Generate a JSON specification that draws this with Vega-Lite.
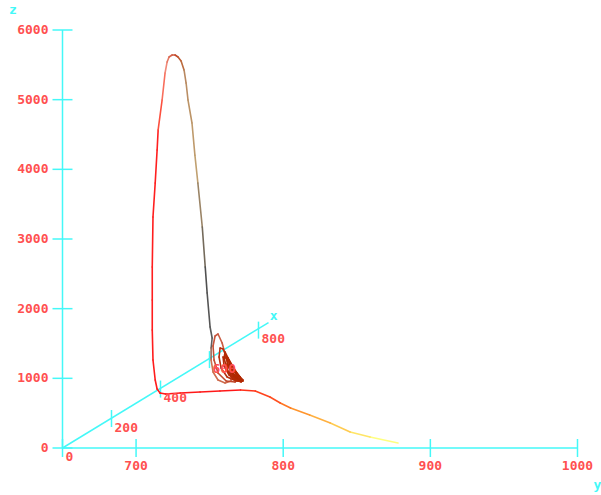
{
  "$schema": "https://vega.github.io/schema/vega-lite/v6.json",
  "width": 515,
  "height": 418,
  "autosize": {"type": "none"},
  "padding": {"left": 62.5, "top": 30, "right": 23.5, "bottom": 47},
  "background": "white",
  "config": {"view": {"stroke": null}},
  "datasets": {
    "curve": [
      {"t": 0, "h": 878, "v": 72}, {"t": 1, "h": 859, "v": 158}, {"t": 2, "h": 845.5, "v": 230},
      {"t": 3, "h": 832, "v": 359}, {"t": 4, "h": 818, "v": 474}, {"t": 5, "h": 805, "v": 574},
      {"t": 6, "h": 798, "v": 646}, {"t": 7, "h": 791, "v": 732}, {"t": 8, "h": 781, "v": 818},
      {"t": 9, "h": 771, "v": 833}, {"t": 10, "h": 757, "v": 818}, {"t": 11, "h": 743.5, "v": 804},
      {"t": 12, "h": 730, "v": 789}, {"t": 13, "h": 720, "v": 775}, {"t": 14, "h": 716.3, "v": 789},
      {"t": 15, "h": 714.3, "v": 847}, {"t": 16, "h": 713, "v": 976}, {"t": 17, "h": 711.5, "v": 1263},
      {"t": 18, "h": 711, "v": 1694}, {"t": 19, "h": 711, "v": 2124}, {"t": 20, "h": 711, "v": 2598},
      {"t": 21, "h": 711.5, "v": 3316}, {"t": 22, "h": 713, "v": 3804}, {"t": 23, "h": 714.3, "v": 4278},
      {"t": 24, "h": 715, "v": 4565}, {"t": 25, "h": 717.7, "v": 4995}, {"t": 26, "h": 719.7, "v": 5383},
      {"t": 26.5, "h": 721.1, "v": 5541}, {"t": 27, "h": 722.4, "v": 5612}, {"t": 27.5, "h": 724.5, "v": 5641},
      {"t": 28, "h": 726.5, "v": 5641}, {"t": 28.5, "h": 728.5, "v": 5612}, {"t": 29, "h": 730.6, "v": 5555},
      {"t": 30, "h": 732.6, "v": 5426}, {"t": 31, "h": 734.0, "v": 5239}, {"t": 32, "h": 735.3, "v": 4995},
      {"t": 33, "h": 738, "v": 4665}, {"t": 34, "h": 740, "v": 4200}, {"t": 35, "h": 742, "v": 3804},
      {"t": 36, "h": 745, "v": 3172}, {"t": 37, "h": 747, "v": 2598}, {"t": 38, "h": 748.3, "v": 2225},
      {"t": 39, "h": 750.3, "v": 1737}, {"t": 40, "h": 751.7, "v": 1579},
      {"t": 41, "h": 751.0, "v": 1435}, {"t": 42, "h": 751.0, "v": 1263}, {"t": 43, "h": 752.3, "v": 1091},
      {"t": 44, "h": 755.7, "v": 976}, {"t": 45, "h": 760.5, "v": 933}, {"t": 46, "h": 764.6, "v": 962},
      {"t": 47, "h": 763.9, "v": 1091}, {"t": 48, "h": 761.2, "v": 1292}, {"t": 49, "h": 758.5, "v": 1507},
      {"t": 50, "h": 755.7, "v": 1636}, {"t": 51, "h": 753.7, "v": 1608}, {"t": 52, "h": 752.3, "v": 1464},
      {"t": 53, "h": 753.0, "v": 1263}, {"t": 54, "h": 755.7, "v": 1077}, {"t": 55, "h": 761.2, "v": 962},
      {"t": 56, "h": 767.3, "v": 947}, {"t": 57, "h": 769.3, "v": 1005}, {"t": 58, "h": 765.9, "v": 1134},
      {"t": 59, "h": 761.9, "v": 1292}, {"t": 60, "h": 759.1, "v": 1421}, {"t": 61, "h": 757.1, "v": 1435},
      {"t": 62, "h": 756.4, "v": 1306}, {"t": 63, "h": 757.8, "v": 1148}, {"t": 64, "h": 761.9, "v": 1019},
      {"t": 65, "h": 768.0, "v": 962}, {"t": 66, "h": 772.1, "v": 962}, {"t": 67, "h": 769.3, "v": 1048},
      {"t": 68, "h": 764.6, "v": 1177}, {"t": 69, "h": 761.2, "v": 1292}, {"t": 70, "h": 759.1, "v": 1306},
      {"t": 71, "h": 759.8, "v": 1177}, {"t": 72, "h": 763.2, "v": 1048}, {"t": 73, "h": 768.7, "v": 976},
      {"t": 74, "h": 772.7, "v": 976}, {"t": 75, "h": 769.3, "v": 1048}, {"t": 76, "h": 764.6, "v": 1134},
      {"t": 77, "h": 761.9, "v": 1206}, {"t": 78, "h": 761.9, "v": 1120}, {"t": 79, "h": 765.3, "v": 1019},
      {"t": 80, "h": 770.7, "v": 976}, {"t": 81, "h": 768.0, "v": 1033}, {"t": 82, "h": 763.9, "v": 1091},
      {"t": 83, "h": 763.9, "v": 1048}, {"t": 84, "h": 768.0, "v": 990},
      {"t": 85, "h": 763.9, "v": 1091}, {"t": 86, "h": 769.3, "v": 962}, {"t": 87, "h": 772.7, "v": 962},
      {"t": 88, "h": 768.0, "v": 1091}, {"t": 89, "h": 763.2, "v": 1263}, {"t": 90, "h": 760.5, "v": 1378},
      {"t": 91, "h": 759.8, "v": 1292}, {"t": 92, "h": 761.9, "v": 1120}, {"t": 93, "h": 765.9, "v": 990},
      {"t": 94, "h": 771.4, "v": 947}, {"t": 95, "h": 770.7, "v": 1019}, {"t": 96, "h": 765.9, "v": 1148},
      {"t": 97, "h": 762.5, "v": 1292}, {"t": 98, "h": 761.2, "v": 1321}, {"t": 99, "h": 762.5, "v": 1177},
      {"t": 100, "h": 766.6, "v": 1033}, {"t": 101, "h": 772.1, "v": 962}, {"t": 102, "h": 769.3, "v": 1048},
      {"t": 103, "h": 764.6, "v": 1177}, {"t": 104, "h": 763.2, "v": 1206}, {"t": 105, "h": 765.3, "v": 1077},
      {"t": 106, "h": 770.0, "v": 976}, {"t": 107, "h": 768.0, "v": 1062}, {"t": 108, "h": 765.3, "v": 1120},
      {"t": 109, "h": 766.6, "v": 1033}, {"t": 110, "h": 768.7, "v": 1005}
    ],
    "axislines": [
      {"h": 650, "v": 0, "h2": 650, "v2": 6000},
      {"h": 650, "v": 0, "h2": 1000, "v2": 0},
      {"h": 650, "v": 0, "h2": 790, "v2": 1800}
    ],
    "zticks": [
      {"h": 650, "v": 0, "label": "0"}, {"h": 650, "v": 1000, "label": "1000"},
      {"h": 650, "v": 2000, "label": "2000"}, {"h": 650, "v": 3000, "label": "3000"},
      {"h": 650, "v": 4000, "label": "4000"}, {"h": 650, "v": 5000, "label": "5000"},
      {"h": 650, "v": 6000, "label": "6000"}
    ],
    "yticks": [
      {"h": 650, "v": 0, "label": ""}, {"h": 700, "v": 0, "label": "700"},
      {"h": 800, "v": 0, "label": "800"}, {"h": 900, "v": 0, "label": "900"},
      {"h": 1000, "v": 0, "label": "1000"}
    ],
    "xticks": [
      {"h": 650, "v": 0, "label": "0", "tick": false},
      {"h": 683.3, "v": 423, "label": "200", "tick": true},
      {"h": 716.6, "v": 846, "label": "400", "tick": true},
      {"h": 749.9, "v": 1269, "label": "600", "tick": true},
      {"h": 783.2, "v": 1692, "label": "800", "tick": true}
    ],
    "titles": [
      {"h": 616.3, "v": 6286, "label": "z"},
      {"h": 1013.5, "v": -531, "label": "y"},
      {"h": 793.5, "v": 1894, "label": "x"}
    ]
  },
  "layer": [
    {
      "data": {"name": "axislines"},
      "mark": {"type": "rule", "color": "#44f8f8", "strokeWidth": 1.5},
      "encoding": {
        "x": {"field": "h", "type": "quantitative", "scale": {"domain": [650, 1000], "zero": false, "nice": false}, "axis": null},
        "y": {"field": "v", "type": "quantitative", "scale": {"domain": [0, 6000], "nice": false}, "axis": null},
        "x2": {"field": "h2"},
        "y2": {"field": "v2"}
      }
    },
    {
      "data": {"name": "zticks"},
      "mark": {"type": "tick", "orient": "horizontal", "size": 20, "thickness": 1.5, "color": "#44f8f8", "opacity": 1},
      "encoding": {
        "x": {"field": "h", "type": "quantitative"},
        "y": {"field": "v", "type": "quantitative"}
      }
    },
    {
      "data": {"name": "yticks"},
      "mark": {"type": "tick", "orient": "vertical", "size": 18, "thickness": 1.5, "color": "#44f8f8", "opacity": 1},
      "encoding": {
        "x": {"field": "h", "type": "quantitative"},
        "y": {"field": "v", "type": "quantitative"}
      }
    },
    {
      "data": {"name": "xticks"},
      "transform": [{"filter": "datum.tick"}],
      "mark": {"type": "tick", "orient": "vertical", "size": 17, "thickness": 1.5, "color": "#44f8f8", "opacity": 1},
      "encoding": {
        "x": {"field": "h", "type": "quantitative"},
        "y": {"field": "v", "type": "quantitative"}
      }
    },
    {
      "data": {"name": "curve"},
      "transform": [
        {"window": [{"op": "lead", "field": "h", "as": "h2"}, {"op": "lead", "field": "v", "as": "v2"}], "sort": [{"field": "t"}]},
        {"filter": "datum.h2 != null"}
      ],
      "mark": {"type": "rule", "strokeWidth": 1.6, "strokeCap": "round"},
      "encoding": {
        "x": {"field": "h", "type": "quantitative"},
        "y": {"field": "v", "type": "quantitative"},
        "x2": {"field": "h2"},
        "y2": {"field": "v2"},
        "color": {
          "field": "t", "type": "quantitative", "legend": null,
          "scale": {
            "domain": [0, 3, 6, 9, 23, 26, 28, 30, 34, 37, 40, 42, 50, 60, 110],
            "range": ["#ffff80", "#ffb040", "#ff5020", "#ff1818", "#ff2020", "#f08878", "#c04828", "#b88860", "#c0a070", "#505050", "#606060", "#d07050", "#c85840", "#b83010", "#b02800"]
          }
        }
      }
    },
    {
      "data": {"name": "zticks"},
      "mark": {"type": "text", "align": "right", "baseline": "middle", "dx": -14, "font": "DejaVu Sans Mono", "fontWeight": "bold", "fontSize": 13, "color": "#ff5050"},
      "encoding": {
        "x": {"field": "h", "type": "quantitative"},
        "y": {"field": "v", "type": "quantitative"},
        "text": {"field": "label"}
      }
    },
    {
      "data": {"name": "yticks"},
      "mark": {"type": "text", "align": "center", "baseline": "middle", "dy": 18, "font": "DejaVu Sans Mono", "fontWeight": "bold", "fontSize": 13, "color": "#ff5050"},
      "encoding": {
        "x": {"field": "h", "type": "quantitative"},
        "y": {"field": "v", "type": "quantitative"},
        "text": {"field": "label"}
      }
    },
    {
      "data": {"name": "xticks"},
      "mark": {"type": "text", "align": "left", "baseline": "middle", "dx": 3, "dy": 9, "font": "DejaVu Sans Mono", "fontWeight": "bold", "fontSize": 13, "color": "#ff5050"},
      "encoding": {
        "x": {"field": "h", "type": "quantitative"},
        "y": {"field": "v", "type": "quantitative"},
        "text": {"field": "label"}
      }
    },
    {
      "data": {"name": "titles"},
      "mark": {"type": "text", "align": "center", "baseline": "middle", "font": "DejaVu Sans Mono", "fontWeight": "bold", "fontSize": 13, "color": "#44f8f8"},
      "encoding": {
        "x": {"field": "h", "type": "quantitative"},
        "y": {"field": "v", "type": "quantitative"},
        "text": {"field": "label"}
      }
    }
  ]
}
